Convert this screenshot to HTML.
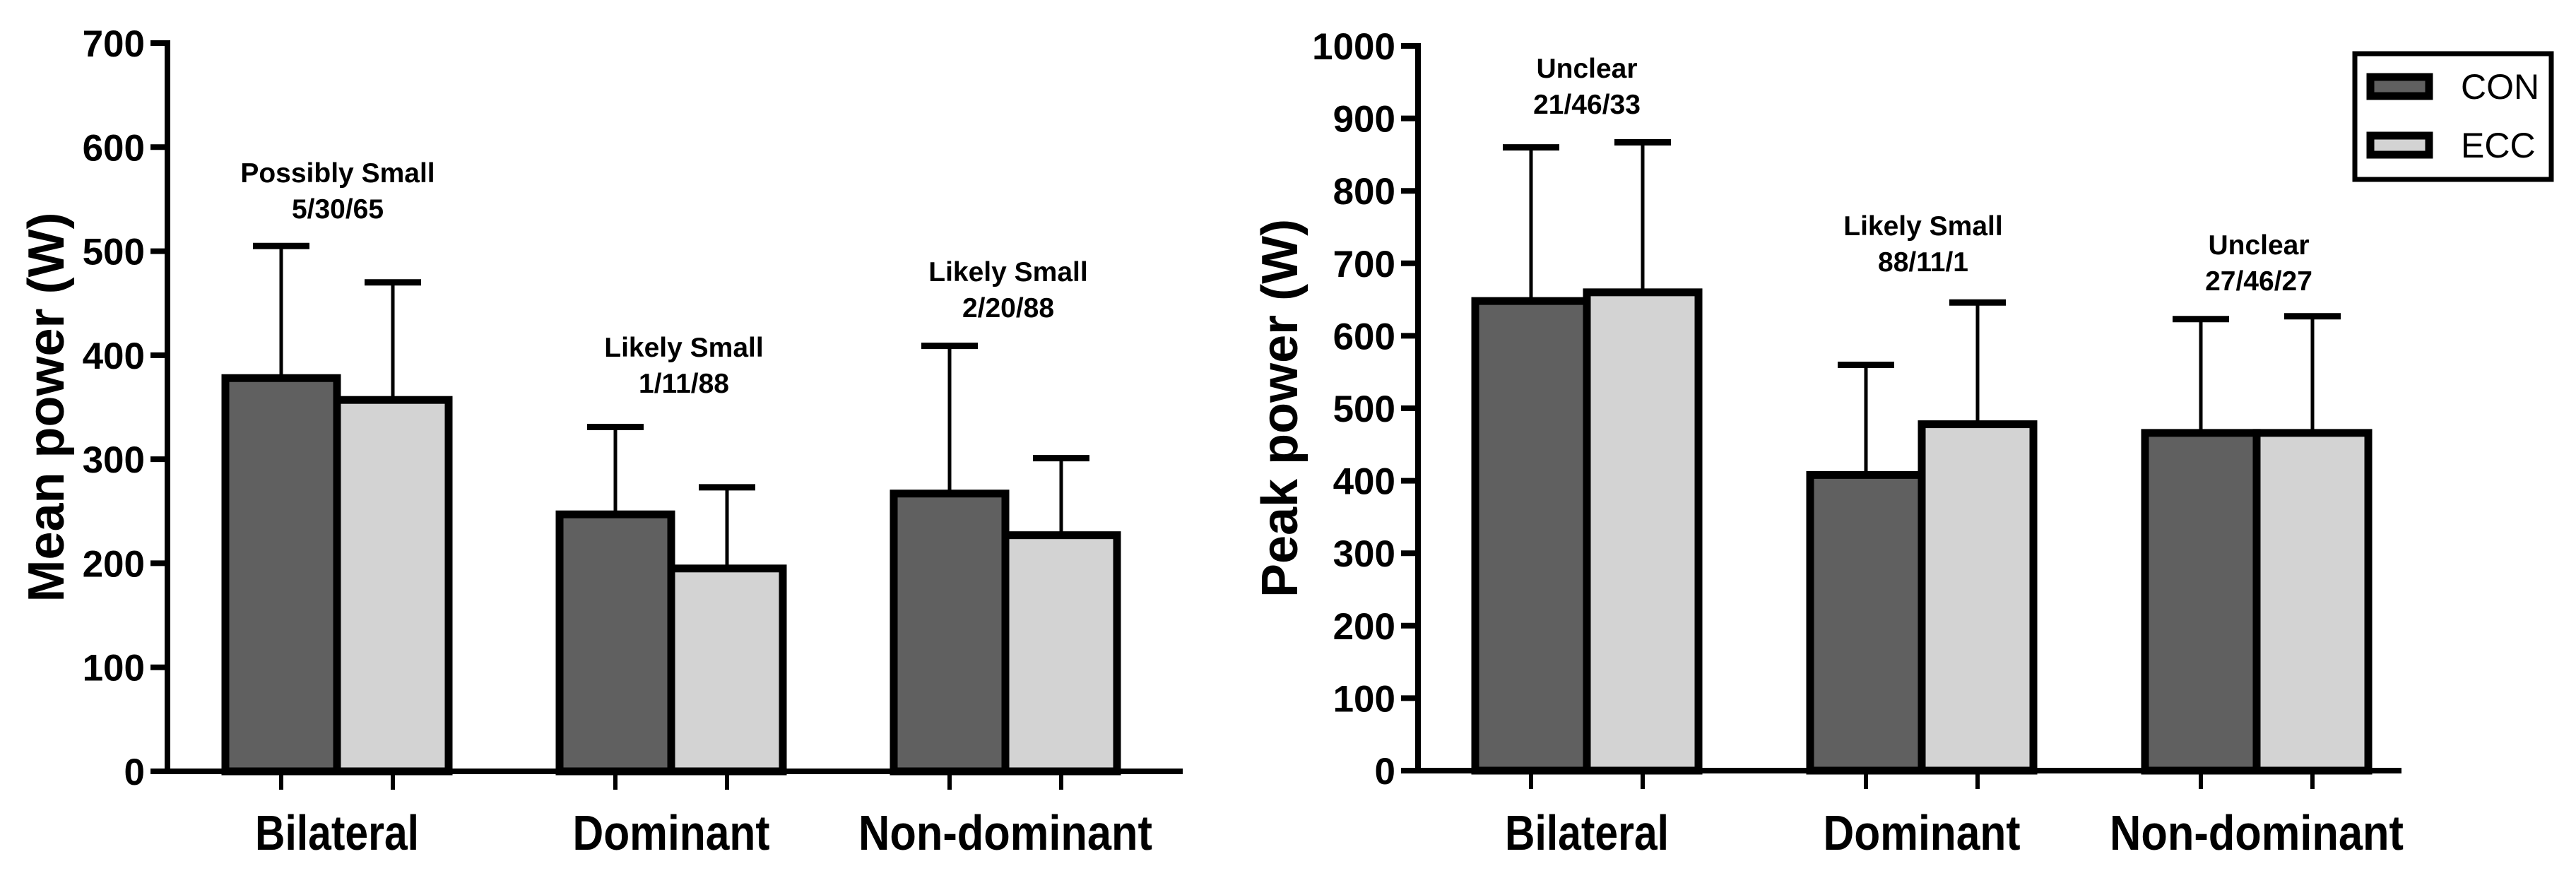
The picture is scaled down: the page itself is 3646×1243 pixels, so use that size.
<!DOCTYPE html>
<html><head><meta charset="utf-8">
<style>
html,body{margin:0;padding:0;background:#fff;}
svg{display:block;}
text{font-family:"Liberation Sans",Arial,sans-serif;fill:#000;}
</style></head>
<body>
<svg id="fig" width="3646" height="1243" viewBox="0 0 3646 1243" xmlns="http://www.w3.org/2000/svg"></svg>
<script>
const categories = ["Bilateral","Dominant","Non-dominant"];
const series = ["CON","ECC"];
const meanCON = [378,247,267];
const meanECC = [357,195,227];
const meanCONsd = [505,331,409];
const meanECCsd = [470,273,301];
const peakCON = [648,408,466];
const peakECC = [660,478,466];
const peakCONsd = [860,560,623];
const peakECCsd = [867,646,627];
const meanTicks = [0,100,200,300,400,500,600,700];
const peakTicks = [0,100,200,300,400,500,600,700,800,900,1000];
const meanAnnot1 = ["Possibly Small","Likely Small","Likely Small"];
const meanAnnot2 = ["5/30/65","1/11/88","2/20/88"];
const peakAnnot1 = ["Unclear","Likely Small","Unclear"];
const peakAnnot2 = ["21/46/33","88/11/1","27/46/27"];

const NS="http://www.w3.org/2000/svg";
const svg=document.getElementById('fig');
function mk(tag,attrs,parent){const e=document.createElementNS(NS,tag);for(const k in attrs)e.setAttribute(k,attrs[k]);(parent||svg).appendChild(e);return e;}

function drawChart(o){
  const g=mk('g',{});
  
  
  const y=v=>o.zero-(v-0)*(o.zero-o.top)/o.max;
  const groupX=i=>o.firstDiv+i*o.gap;
  const bw=o.bw;
  for(let i=0;i<categories.length;i++){
    const d=groupX(i);
    const specs=[[o.con[i],o.conSd[i],d-bw,'#606060','con'],[o.ecc[i],o.eccSd[i],d,'#d3d3d3','ecc']];
    for(const [v,sd,x0,col,key] of specs){
      const cx=x0+bw/2;
      const eb=mk('line',{x1:cx,x2:cx,y1:y(v),y2:y(sd),stroke:'#000','stroke-width':5},g);
      
      
      const cap=mk('line',{x1:cx-40,x2:cx+40,y1:y(sd),y2:y(sd),stroke:'#000','stroke-width':9},g);
      
      
      const r=mk('rect',{x:x0,y:y(v),width:bw,height:y(0)-y(v),fill:col,stroke:'#000','stroke-width':11},g);
      
      
      const t=mk('line',{x1:cx,x2:cx,y1:o.zero,y2:o.zero+26,stroke:'#000','stroke-width':6},g);
      
      
    }
    const cl=mk('text',{x:d,y:1203,'font-size':70,'font-weight':'bold','text-anchor':'middle',textLength:o.catW[i],lengthAdjust:'spacingAndGlyphs'},g);
    cl.textContent=categories[i];
    
    
    const a1=mk('text',{x:o.annX[i],y:o.annY[i],'font-size':39,'font-weight':'bold','text-anchor':'middle'},g);
    a1.textContent=o.ann1[i];
    
    
    const a2=mk('text',{x:o.annX[i],y:o.annY[i]+51,'font-size':39,'font-weight':'bold','text-anchor':'middle'},g);
    a2.textContent=o.ann2[i];
    
    
  }
  const ya=mk('line',{x1:o.ax,x2:o.ax,y1:o.top-4,y2:o.zero+4,stroke:'#000','stroke-width':8},g);
  
  
  const xa=mk('line',{x1:o.ax-24,x2:o.xEnd,y1:o.zero,y2:o.zero,stroke:'#000','stroke-width':8},g);
  
  
  for(const t of o.ticks){
    const tl=mk('line',{x1:o.ax-24,x2:o.ax,y1:y(t),y2:y(t),stroke:'#000','stroke-width':8},g);
    
    
    const tx=mk('text',{x:o.ax-32,y:y(t)+19,'font-size':53,'font-weight':'bold','text-anchor':'end'},g);
    tx.textContent=t;
    
    
  }
  const yt=mk('text',{x:0,y:0,'font-size':72,'font-weight':'bold','text-anchor':'middle',transform:'translate('+o.titleX+','+((o.top+o.zero)/2)+') rotate(-90)'},g);
  yt.textContent=o.title;
  
  
}

drawChart({name:'mean-power-chart',zero:1092,top:61,max:700,firstDiv:477,gap:473,bw:158,ax:237,xEnd:1674,
  con:meanCON,ecc:meanECC,conSd:meanCONsd,eccSd:meanECCsd,ticks:meanTicks,title:'Mean power (W)',titleX:90,
  catW:[232,279,416],ann1:meanAnnot1,ann2:meanAnnot2,annX:[478,968,1427],annY:[258,505,398]});
drawChart({name:'peak-power-chart',zero:1091,top:65,max:1000,firstDiv:2246,gap:474,bw:158,ax:2007,xEnd:3399,
  con:peakCON,ecc:peakECC,conSd:peakCONsd,eccSd:peakECCsd,ticks:peakTicks,title:'Peak power (W)',titleX:1836,
  catW:[232,279,416],ann1:peakAnnot1,ann2:peakAnnot2,annX:[2246,2722,3197],annY:[110,333,360]});

const lg=mk('g',{});


mk('rect',{x:3333,y:76,width:278,height:178,fill:'#fff',stroke:'#000','stroke-width':7},lg);
const legCols=['#606060','#d3d3d3'];
const legY=[104,187];
for(let i=0;i<series.length;i++){
  const sw=mk('rect',{x:3355,y:legY[i]+5,width:83,height:27,fill:legCols[i],stroke:'#000','stroke-width':11},lg);
  
  
  const lt=mk('text',{x:3483,y:legY[i]+36,'font-size':50},lg);
  lt.textContent=series[i];
  
  
}
</script>
</body></html>
